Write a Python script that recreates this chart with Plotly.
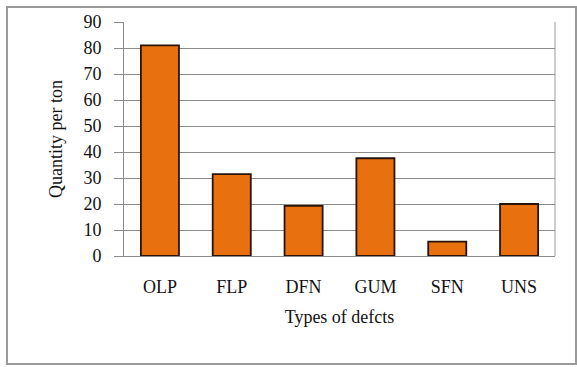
import plotly.graph_objects as go

categories = ["OLP", "FLP", "DFN", "GUM", "SFN", "UNS"]
values = [81, 31.5, 19.3, 37.6, 5.5, 20]
y_ticks = [0, 10, 20, 30, 40, 50, 60, 70, 80, 90]

FONT = "Liberation Serif"

fig = go.Figure(go.Bar(
    x=categories, y=values,
    marker=dict(color="#E8700E", line=dict(color="#2a1408", width=1.8)),
    width=0.53,
))

fig.update_layout(
    width=577, height=367,
    margin=dict(l=124, r=22, t=20, b=111),
    paper_bgcolor="white", plot_bgcolor="white",
    font=dict(family=FONT, size=18, color="#111"),
    showlegend=False,
    xaxis=dict(
        title=dict(text="Types of defcts", font=dict(family=FONT, size=18), standoff=14),
        showline=True, linecolor="#8a8a8a", linewidth=1,
        ticks="", tickfont=dict(family=FONT, size=18),
        ticklabelstandoff=14,
        mirror=False,
    ),
    yaxis=dict(
        title=dict(text="Quantity per ton", font=dict(family=FONT, size=18), standoff=16),
        range=[0, 90], tickvals=y_ticks, ticktext=[str(v) for v in y_ticks],
        showgrid=True, gridcolor="#8c8c8c", gridwidth=1,
        showline=True, linecolor="#8a8a8a", linewidth=1,
        ticks="outside", ticklen=9, tickcolor="#8a8a8a",
        tickfont=dict(family=FONT, size=18),
        ticklabelstandoff=9,
        zeroline=False,
    ),
    shapes=[
        dict(type="line", xref="paper", yref="paper", x0=1, x1=1, y0=0, y1=1,
             line=dict(color="#9a9a9a", width=1)),
        dict(type="rect", xref="paper", yref="paper",
             x0=-0.2715, x1=1.0487, y0=-0.4619, y1=1.0636,
             line=dict(color="#9a9a9a", width=2), layer="below"),
    ],
)

fig.write_html("out.html")
